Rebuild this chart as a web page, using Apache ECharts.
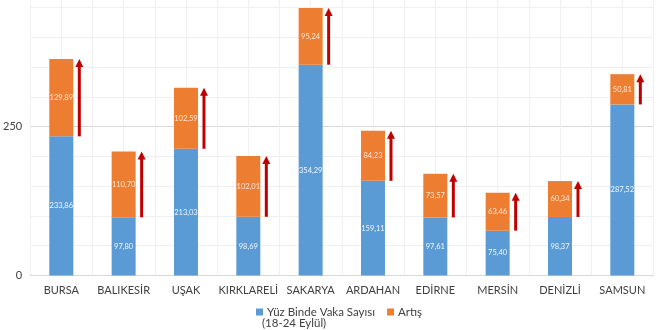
<!DOCTYPE html>
<html>
<head>
<meta charset="utf-8">
<script src="https://cdn.jsdelivr.net/npm/echarts@6/dist/echarts.min.js"></script>
<style>html,body{margin:0;padding:0;background:#fff}#c{width:660px;height:330px}</style>
</head>
<body>
<div id="c"></div>
<script>
const categories = ['BURSA','BALIKESİR','UŞAK','KIRKLARELİ','SAKARYA','ARDAHAN','EDİRNE','MERSİN','DENİZLİ','SAMSUN'];
const baseValues = [233.86, 97.80, 213.03, 98.69, 354.29, 159.11, 97.61, 75.40, 98.37, 287.52];
const increaseValues = [129.89, 110.70, 102.59, 102.01, 95.24, 84.23, 73.57, 63.46, 60.34, 50.81];
const seriesNames = ['Yüz Binde Vaka Sayısı', 'Artış'];
const legendSubtitle = '(18-24 Eylül)';

const FONT = 'Lato';
const fmt = v => v.toFixed(2).replace('.', ',');
const arrowData = categories.map((c, i) => [i, baseValues[i], baseValues[i] + increaseValues[i]]);

const chart = echarts.init(document.getElementById('c'), null, {renderer: 'canvas'});
chart.setOption({
  animation: false,
  backgroundColor: '#fff',
  grid: {left: 25.5, right: 6.5, top: 0, bottom: 54.5, containLabel: false},
  legend: {
    data: seriesNames,
    left: 251, top: 301,
    itemWidth: 7, itemHeight: 7, itemGap: 12,
    icon: 'rect',
    textStyle: {fontFamily: FONT, fontSize: 11.5, color: '#404040', padding: [0, 0, 0, -1]}
  },
  graphic: [
    {type: 'text', left: 262, top: 317, style: {text: legendSubtitle, fontFamily: FONT, fontSize: 11.5, fill: '#404040'}}
  ],
  xAxis: [
    {
      type: 'category', data: categories,
      axisLine: {show: true, lineStyle: {color: '#d9d9d9'}},
      axisTick: {show: false},
      axisLabel: {fontFamily: FONT, fontSize: 11, color: '#404040', margin: 9, interval: 0},
      splitLine: {show: false}
    },
    {
      type: 'value', min: 0, max: 20, interval: 1, show: true,
      axisLine: {show: false}, axisTick: {show: false}, axisLabel: {show: false},
      splitLine: {show: true, lineStyle: {color: '#f0f0f0', width: 1}}
    }
  ],
  yAxis: {
    type: 'value', min: 0, max: 463, interval: 50,
    axisLine: {show: false}, axisTick: {show: false},
    axisLabel: {
      fontFamily: FONT, fontSize: 11, color: '#404040', margin: 8, showMaxLabel: false,
      formatter: v => (v === 0 || v === 250) ? String(v) : ''
    },
    splitLine: {show: true, showMaxLine: false, lineStyle: {color: ['#d9d9d9','#efefef','#efefef','#efefef','#efefef'], width: 1}}
  },
  series: [
    {
      name: seriesNames[0], type: 'bar', stack: 's', data: baseValues, barWidth: 24,
      itemStyle: {color: '#5B9BD5'},
      label: {show: true, position: 'inside', formatter: p => fmt(p.value), fontFamily: FONT, fontSize: 7.5, color: 'rgba(255,255,255,0.92)'}
    },
    {
      name: seriesNames[1], type: 'bar', stack: 's', data: increaseValues, barWidth: 24,
      itemStyle: {color: '#ED7D31'},
      label: {show: true, position: 'inside', formatter: p => fmt(p.value), fontFamily: FONT, fontSize: 7.5, color: 'rgba(255,238,225,0.95)'}
    },
    {
      name: 'arrows', type: 'custom', data: arrowData, silent: true, z: 5,
      encode: {x: 0, y: [1, 2]},
      renderItem: function (params, api) {
        const i = api.value(0);
        const p0 = api.coord([i, api.value(1)]);
        const p1 = api.coord([i, api.value(2)]);
        const cx = p0[0] + 18;
        const head = 8;
        return {
          type: 'group',
          children: [
            {type: 'line', shape: {x1: cx, y1: p0[1], x2: cx, y2: p1[1] + head - 1}, style: {stroke: '#C00000', lineWidth: 3}},
            {type: 'polygon', shape: {points: [[cx - 4, p1[1] + head], [cx + 4, p1[1] + head], [cx, p1[1]]]}, style: {fill: '#C00000'}}
          ]
        };
      }
    }
  ]
});
</script>
</body>
</html>
